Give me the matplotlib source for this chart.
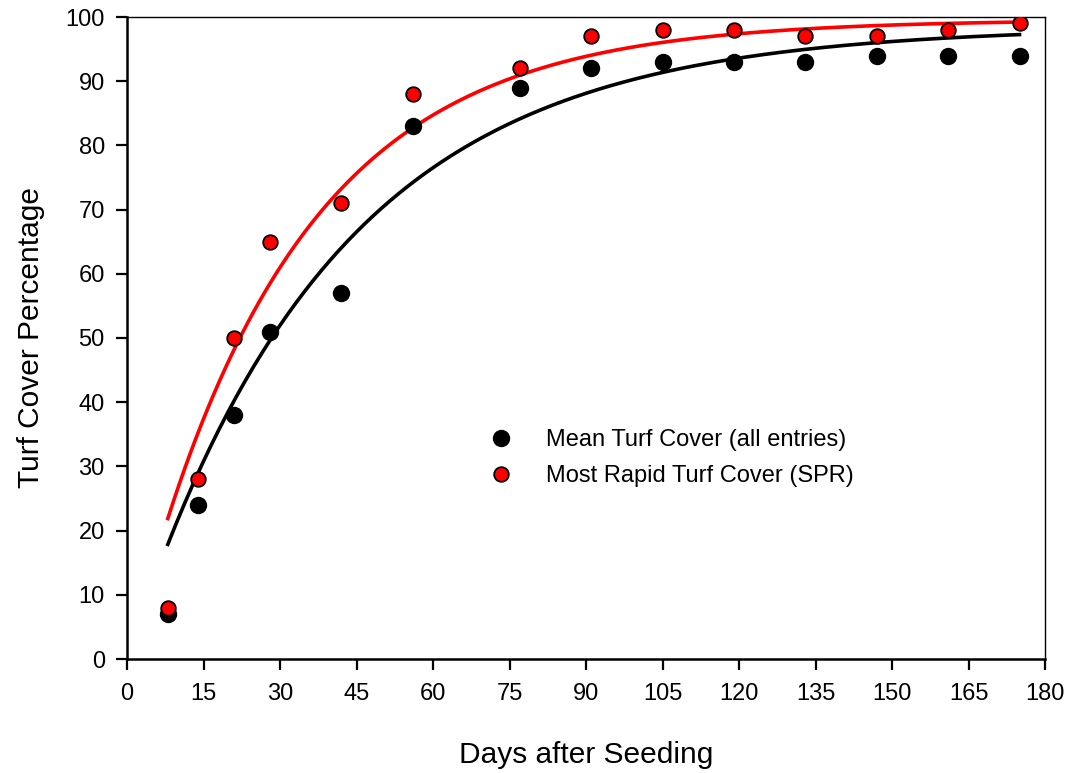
import numpy as np
import matplotlib
matplotlib.use("Agg")
import matplotlib.pyplot as plt

plt.rcParams['font.family'] = ['Liberation Sans', 'DejaVu Sans']

days = [8, 14, 21, 28, 42, 56, 77, 91, 105, 119, 133, 147, 161, 175]
mean_cover = [7, 24, 38, 51, 57, 83, 89, 92, 93, 93, 93, 94, 94, 94]
spr_cover = [8, 28, 50, 65, 71, 88, 92, 97, 98, 98, 97, 97, 98, 99]

# exponential rise fits y = a*(1-exp(-b*(x-x0)))
mean_fit = dict(a=98.5, b=0.0250, x0=0.0)
spr_fit = dict(a=99.6, b=0.0318, x0=0.2)

xticks = list(range(0, 181, 15))
yticks = list(range(0, 101, 10))

fig = plt.figure(figsize=(10.69, 7.73), dpi=100)
ax = fig.add_axes([127/1069, 1-659/773, (1045-127)/1069, (659-17)/773])

xs = np.linspace(min(days), max(days), 300)
def curve(p):
    return p['a'] * (1 - np.exp(-p['b'] * (xs - p['x0'])))

ax.plot(xs, curve(mean_fit), color='black', lw=2.6, zorder=2)
ax.plot(xs, curve(spr_fit), color='#ff0000', lw=2.6, zorder=2)

ax.plot(days, mean_cover, 'o', color='black', mec='black', ms=11.5, mew=1,
        zorder=3, label='Mean Turf Cover (all entries)')
ax.plot(days, spr_cover, 'o', color='#ff0000', mec='black', ms=10.5, mew=1.3,
        zorder=4, label='Most Rapid Turf Cover (SPR)')

ax.set_xlim(0, 180)
ax.set_ylim(0, 100)
ax.set_xticks(xticks)
ax.set_yticks(yticks)
ax.tick_params(axis='both', direction='out', length=8, width=1.6,
               labelsize=17)
ax.tick_params(axis='x', pad=9)
ax.tick_params(axis='y', pad=8)
for s in ['left', 'bottom']:
    ax.spines[s].set_linewidth(1.8)
for s in ['top', 'right']:
    ax.spines[s].set_linewidth(1.0)

ax.set_xlabel('Days after Seeding', fontsize=21.5, labelpad=26)
ax.set_ylabel('Turf Cover Percentage', fontsize=21.5, labelpad=15)

ax.legend(loc='upper left', bbox_to_anchor=(0.395, 0.358), frameon=False,
          fontsize=17, handlelength=1.0, handletextpad=1.4, borderpad=0,
          borderaxespad=0, labelspacing=0.6, numpoints=1)

fig.savefig('out.png', dpi=100)
